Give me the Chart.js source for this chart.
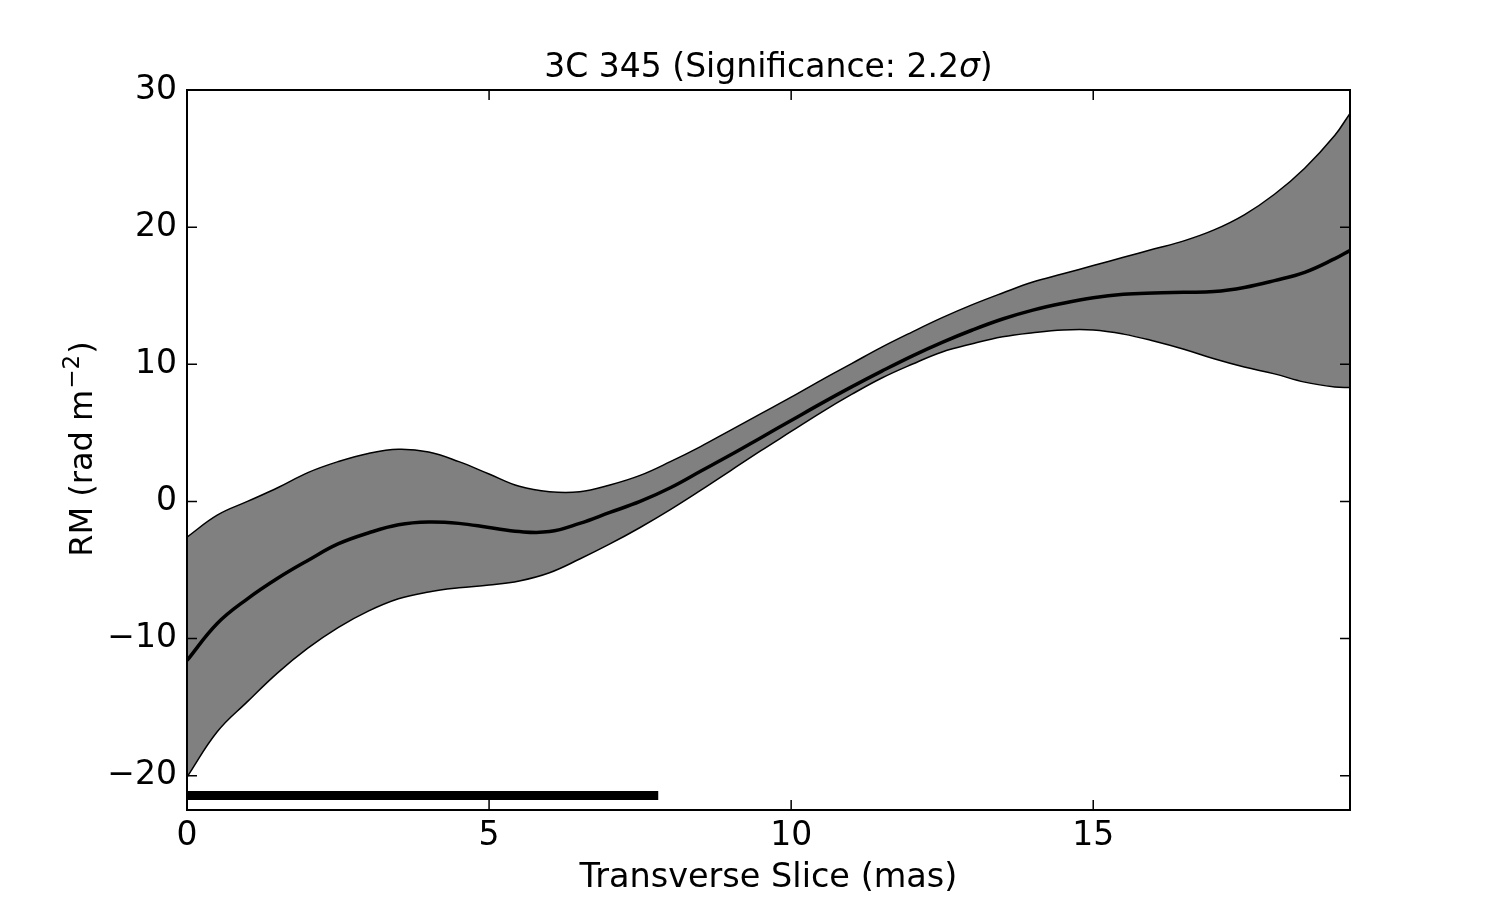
<!DOCTYPE html>
<html><head><meta charset="utf-8">
<script src="https://cdn.jsdelivr.net/npm/chart.js@4.4.1/dist/chart.umd.min.js"></script>
<style>html,body{margin:0;padding:0;background:#fff}#wrap{width:1500px;height:900px}</style>
</head><body><div id="wrap"><canvas id="c" width="1500" height="900"></canvas></div>
<script>
// ---- data ----
const sliceMas = [0,0.5,1,1.5,2,2.5,3,3.5,4,4.5,5,5.5,6,6.5,7,7.5,8,8.5,9,9.5,10,10.5,11,11.5,12,12.5,13,13.5,14,14.5,15,15.5,16,16.5,17,17.5,18,18.5,19,19.25];
const rmCentral = [-11.6,-8.9,-7.1,-5.6,-4.3,-3.1,-2.3,-1.7,-1.5,-1.6,-1.9,-2.2,-2.2,-1.6,-0.8,0.0,1.0,2.2,3.4,4.65,5.9,7.15,8.35,9.5,10.6,11.6,12.5,13.3,13.95,14.45,14.85,15.1,15.2,15.25,15.3,15.6,16.1,16.7,17.7,18.3];
const rmUpper = [-2.6,-1.0,0.0,1.0,2.1,2.9,3.5,3.8,3.6,2.9,2.0,1.1,0.7,0.7,1.2,1.9,2.9,4.0,5.2,6.4,7.6,8.85,10.05,11.25,12.35,13.4,14.35,15.2,16.0,16.6,17.2,17.8,18.4,19.0,19.8,20.9,22.4,24.3,26.7,28.3];
const rmLower = [-20.1,-16.8,-14.6,-12.5,-10.7,-9.2,-8.0,-7.1,-6.6,-6.3,-6.1,-5.8,-5.2,-4.2,-3.1,-1.9,-0.6,0.8,2.25,3.7,5.1,6.5,7.8,9.0,10.0,10.9,11.5,12.0,12.3,12.5,12.5,12.2,11.7,11.1,10.4,9.8,9.3,8.7,8.35,8.3];
const beamX = [0, 7.8];
const beamY = [-21.45, -21.45];
const xTicks = [0, 5, 10, 15];
const yTicks = [-20, -10, 0, 10, 20, 30];
const xRange = [0, 19.25];
const yRange = [-22.5, 30];
const titleMain = '3C 345 (Significance: 2.2';
const titleSym = '\u03c3';
const titleEnd = ')';
const xLabel = 'Transverse Slice (mas)';
const yLabelMain = 'RM (rad m';
const yLabelSup = '\u22122';
const yLabelEnd = ')';

const FONT = 'DejaVu Sans';
const pts = (ys) => sliceMas.map((x, i) => ({x, y: ys[i]}));

const decor = {
  id: 'decor',
  afterDatasetsDraw(chart) {
    const {ctx, chartArea: a, scales: {x, y}} = chart;
    ctx.save();
    ctx.strokeStyle = '#000';
    ctx.lineWidth = 1.5;
    const L = 10;
    ctx.beginPath();
    xTicks.forEach(v => {
      const p = x.getPixelForValue(v);
      ctx.moveTo(p, a.bottom); ctx.lineTo(p, a.bottom - L);
      ctx.moveTo(p, a.top); ctx.lineTo(p, a.top + L);
    });
    yTicks.forEach(v => {
      const p = y.getPixelForValue(v);
      ctx.moveTo(a.left, p); ctx.lineTo(a.left + L, p);
      ctx.moveTo(a.right, p); ctx.lineTo(a.right - L, p);
    });
    ctx.stroke();
    ctx.lineWidth = 2;
    ctx.strokeRect(a.left, a.top, a.right - a.left, a.bottom - a.top);
    ctx.restore();
  },
  afterDraw(chart) {
    const {ctx, chartArea: a} = chart;
    ctx.save();
    ctx.fillStyle = '#000';
    ctx.textBaseline = 'alphabetic';
    // title
    const tf = '33px "' + FONT + '"', tfi = 'italic 33px "' + FONT + '"';
    ctx.font = tf; const w1 = ctx.measureText(titleMain).width; const w3 = ctx.measureText(titleEnd).width;
    ctx.font = tfi; const w2 = ctx.measureText(titleSym).width;
    let tx = (a.left + a.right) / 2 - (w1 + w2 + w3) / 2;
    const ty = 77;
    ctx.textAlign = 'left';
    ctx.font = tf; ctx.fillText(titleMain, tx, ty); tx += w1;
    ctx.font = tfi; ctx.fillText(titleSym, tx, ty); tx += w2;
    ctx.font = tf; ctx.fillText(titleEnd, tx, ty);
    // x label
    ctx.font = '33.5px "' + FONT + '"';
    ctx.textAlign = 'center';
    ctx.fillText(xLabel, (a.left + a.right) / 2, 887);
    // y label (rotated)
    ctx.translate(92, (a.top + a.bottom) / 2);
    ctx.rotate(-Math.PI / 2);
    const lf = '32px "' + FONT + '"', sf = '23px "' + FONT + '"';
    ctx.font = lf; const m1 = ctx.measureText(yLabelMain).width, m3 = ctx.measureText(yLabelEnd).width;
    ctx.font = sf; const m2 = ctx.measureText(yLabelSup).width;
    let lx = -(m1 + m2 + m3) / 2;
    ctx.textAlign = 'left';
    ctx.font = lf; ctx.fillText(yLabelMain, lx, 0); lx += m1;
    ctx.font = sf; ctx.fillText(yLabelSup, lx + 1, -13); lx += m2 + 2;
    ctx.font = lf; ctx.fillText(yLabelEnd, lx, 0);
    ctx.restore();
  }
};

const fmt = v => String(v).replace('-', '\u2212');

new Chart(document.getElementById('c'), {
  type: 'line',
  data: {
    datasets: [
      {label: 'beam', data: beamX.map((x, i) => ({x, y: beamY[i]})), borderColor: '#000', borderWidth: 9, borderCapStyle: 'butt', pointRadius: 0, fill: false, tension: 0},
      {label: 'RM', data: pts(rmCentral), borderColor: '#000', borderWidth: 3.5, pointRadius: 0, tension: 0.4, fill: false},
      {label: 'upper', data: pts(rmUpper), borderColor: '#000', borderWidth: 1.5, pointRadius: 0, tension: 0.4, fill: 3, backgroundColor: '#808080'},
      {label: 'lower', data: pts(rmLower), borderColor: '#000', borderWidth: 1.5, pointRadius: 0, tension: 0.4, fill: false}
    ]
  },
  options: {
    responsive: false,
    animation: false,
    devicePixelRatio: 1,
    layout: {padding: {top: 90, right: 150, left: 0, bottom: 0}},
    plugins: {legend: {display: false}, tooltip: {enabled: false}, filler: {drawTime: 'beforeDatasetsDraw'}},
    scales: {
      x: {
        type: 'linear', min: xRange[0], max: xRange[1],
        grid: {display: false, drawTicks: false},
        border: {display: false},
        afterFit: s => { s.height = 90; },
        afterBuildTicks: s => { s.ticks = xTicks.map(v => ({value: v})); },
        ticks: {color: '#000', font: {family: FONT, size: 33}, padding: 7, maxRotation: 0, autoSkip: false, callback: fmt}
      },
      y: {
        type: 'linear', min: yRange[0], max: yRange[1],
        grid: {display: false, drawTicks: false},
        border: {display: false},
        afterFit: s => { s.width = 187; },
        afterBuildTicks: s => { s.ticks = yTicks.map(v => ({value: v})); },
        ticks: {color: '#000', font: {family: FONT, size: 33}, padding: 10, autoSkip: false, callback: fmt}
      }
    }
  },
  plugins: [decor]
});
</script></body></html>
